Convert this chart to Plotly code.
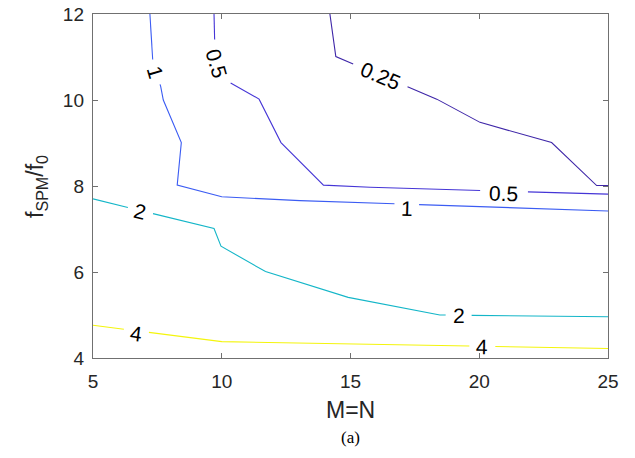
import math
import plotly.graph_objects as go

# ---------------- data ----------------
x_range = [5, 25]
y_range = [4, 12]
x_ticks = [5, 10, 15, 20, 25]
y_ticks = [4, 6, 8, 10, 12]

levels = [0.25, 0.5, 1, 2, 4]
level_text = ["0.25", "0.5", "1", "2", "4"]
level_color = ["#3e26a8", "#4535d6", "#3b5cf3", "#14b6c8", "#f4f50c"]

c025_x = [14.20, 14.43, 18.35, 20.03, 22.81, 24.56, 25.0]
c025_y = [12.00, 11.01, 10.02, 9.48, 9.01, 8.01, 8.01]

c05_x = [9.70, 9.74, 9.92, 10.25, 11.45, 12.30, 13.95, 15.76, 25.0]
c05_y = [12.00, 11.00, 10.62, 10.43, 10.02, 9.01, 8.02, 7.97, 7.81]

c1_x = [7.21, 7.29, 7.63, 7.73, 8.43, 8.27, 10.00, 13.04, 25.0]
c1_y = [12.00, 11.00, 10.31, 10.00, 9.01, 8.02, 7.75, 7.66, 7.42]

c2_x = [5.00, 9.70, 9.97, 11.70, 14.91, 18.47, 25.0]
c2_y = [7.70, 7.01, 6.60, 6.01, 5.41, 5.00, 4.96]

c4_x = [5.00, 10.00, 25.0]
c4_y = [4.76, 4.38, 4.22]

# contour label positions per level (data coordinates)
lab025_x, lab025_y = [16.15], [10.56]
lab05_x, lab05_y = [9.80, 20.96], [10.85, 7.83]
lab1_x, lab1_y = [7.44, 17.18], [10.65, 7.48]
lab2_x, lab2_y = [6.83, 19.20], [7.40, 4.98]
lab4_x, lab4_y = [6.67, 20.12], [4.56, 4.26]

line_xs = [c025_x, c05_x, c1_x, c2_x, c4_x]
line_ys = [c025_y, c05_y, c1_y, c2_y, c4_y]
lab_xs = [lab025_x, lab05_x, lab1_x, lab2_x, lab4_x]
lab_ys = [lab025_y, lab05_y, lab1_y, lab2_y, lab4_y]

# ---------------- layout geometry ----------------
W, H = 635, 458
L, R, T, B = 93, 27, 14, 100
PW, PH = W - L - R, H - T - B
LABEL_FONT = 21


def to_px(x, y):
    return (L + (x - x_range[0]) / (x_range[1] - x_range[0]) * PW,
            T + (y_range[1] - y) / (y_range[1] - y_range[0]) * PH)


def to_data(px, py):
    return (x_range[0] + (px - L) / PW * (x_range[1] - x_range[0]),
            y_range[1] - (py - T) / PH * (y_range[1] - y_range[0]))


def clip_line(xs, ys, circles):
    """Break a polyline where contour labels sit (circles in pixel space)."""
    P = [to_px(x, y) for x, y in zip(xs, ys)]
    out = []
    last = None
    for i in range(len(P) - 1):
        ax, ay = P[i]
        bx, by = P[i + 1]
        dx, dy = bx - ax, by - ay
        A = dx * dx + dy * dy
        ints = []
        for cx, cy, r in circles:
            fx, fy = ax - cx, ay - cy
            Bq = 2 * (fx * dx + fy * dy)
            Cq = fx * fx + fy * fy - r * r
            disc = Bq * Bq - 4 * A * Cq
            if disc <= 0:
                continue
            s = math.sqrt(disc)
            lo = max((-Bq - s) / (2 * A), 0.0)
            hi = min((-Bq + s) / (2 * A), 1.0)
            if lo < hi:
                ints.append((lo, hi))
        ints.sort()
        pieces = []
        t = 0.0
        for lo, hi in ints:
            if lo > t:
                pieces.append((t, lo))
            t = max(t, hi)
        if t < 1.0:
            pieces.append((t, 1.0))
        for t0, t1 in pieces:
            p0 = (ax + t0 * dx, ay + t0 * dy)
            p1 = (ax + t1 * dx, ay + t1 * dy)
            if last is None or math.hypot(last[0] - p0[0], last[1] - p0[1]) > 1e-6:
                if out:
                    out.append(None)
                out.append(p0)
            out.append(p1)
            last = p1
    rx, ry = [], []
    for p in out:
        if p is None:
            rx.append(None)
            ry.append(None)
        else:
            d = to_data(*p)
            rx.append(d[0])
            ry.append(d[1])
    return rx, ry


def label_angle(xs, ys, cx, cy):
    P = [to_px(x, y) for x, y in zip(xs, ys)]
    best, ang = 1e18, 0.0
    for i in range(len(P) - 1):
        ax, ay = P[i]
        bx, by = P[i + 1]
        dx, dy = bx - ax, by - ay
        A = dx * dx + dy * dy
        t = max(0.0, min(1.0, ((cx - ax) * dx + (cy - ay) * dy) / A))
        d = math.hypot(ax + t * dx - cx, ay + t * dy - cy)
        if d < best:
            best = d
            ang = math.degrees(math.atan2(dy, dx))
    while ang > 90:
        ang -= 180
    while ang <= -90:
        ang += 180
    return ang


fig = go.Figure()
annotations = []
for k, lev in enumerate(levels):
    txt = level_text[k]
    r = 7.5 + 5.5 * len(txt)
    circles = []
    for lx, ly in zip(lab_xs[k], lab_ys[k]):
        cx, cy = to_px(lx, ly)
        circles.append((cx, cy, r))
        annotations.append(dict(
            x=lx, y=ly, xref="x", yref="y", text=txt, showarrow=False,
            xanchor="center", yanchor="middle",
            textangle=label_angle(line_xs[k], line_ys[k], cx, cy),
            font=dict(family="Liberation Sans, Arial, sans-serif",
                      size=LABEL_FONT, color="black")))
    cxs, cys = clip_line(line_xs[k], line_ys[k], circles)
    fig.add_trace(go.Scatter(x=cxs, y=cys, mode="lines",
                             line=dict(color=level_color[k], width=1.1),
                             hoverinfo="skip", showlegend=False,
                             connectgaps=False))

tick_font = dict(family="Liberation Sans, Arial, sans-serif", size=19, color="#262626")
title_font = dict(family="Liberation Sans, Arial, sans-serif", size=23, color="#262626")

annotations += [
    dict(x=0.5, y=(H - B - 410) / PH, xref="paper", yref="paper", text="M=N",
         showarrow=False, xanchor="center", yanchor="middle", font=title_font),
    dict(x=(36 - L) / PW, y=(H - B - 187) / PH, xref="paper", yref="paper",
         text="f<sub>SPM</sub>/f<sub>0</sub>", textangle=-90,
         showarrow=False, xanchor="center", yanchor="middle", font=title_font),
    dict(x=0.5, y=(H - B - 437) / PH, xref="paper", yref="paper", text="(a)",
         showarrow=False, xanchor="center", yanchor="middle",
         font=dict(family="Liberation Serif, Times New Roman, serif", size=17, color="black")),
]

axis_common = dict(showgrid=False, zeroline=False, showline=True, linecolor="#707070",
                   linewidth=1.4, mirror="ticks", ticks="inside", ticklen=5,
                   tickcolor="#707070", tickwidth=1.2, tickfont=tick_font,
                   automargin=False)

fig.update_layout(
    width=W, height=H,
    margin=dict(l=L, r=R, t=T, b=B, pad=0, autoexpand=False),
    paper_bgcolor="white", plot_bgcolor="white",
    xaxis=dict(range=x_range, tickvals=x_ticks, ticklabelstandoff=6, **axis_common),
    yaxis=dict(range=y_range, tickvals=y_ticks, ticklabelstandoff=4, **axis_common),
    annotations=annotations,
)

fig.write_html("out.html")
